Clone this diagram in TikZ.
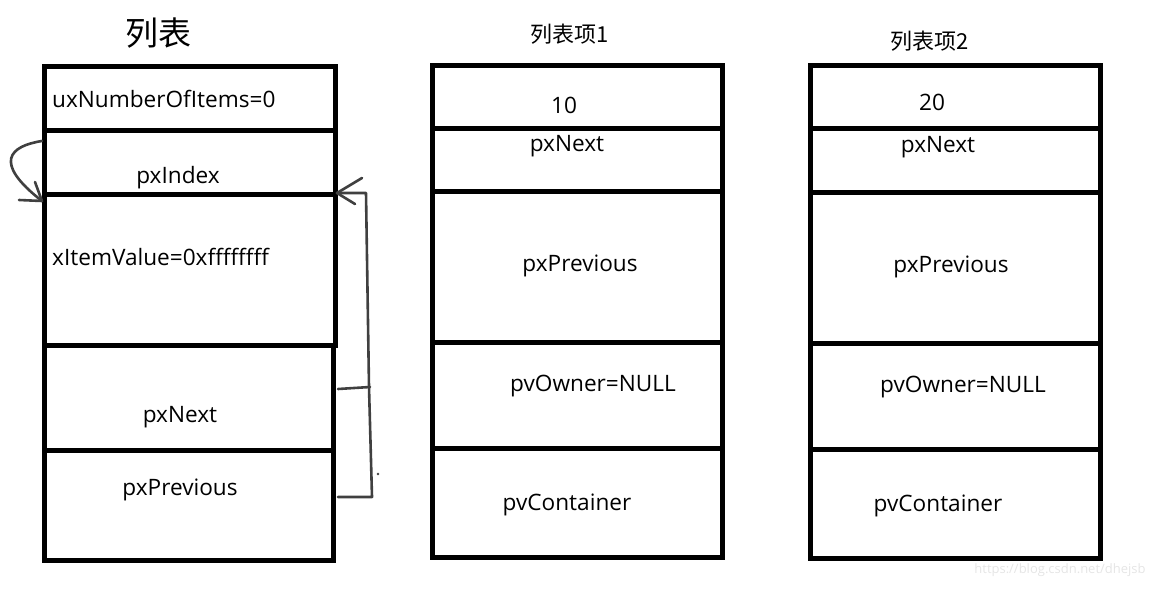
\documentclass[tikz,border=0pt]{standalone}
\usepackage{fontspec}
\setmainfont{Open Sans}
\newfontfamily\cjkf{Noto Sans CJK SC}
\begin{document}
\begin{tikzpicture}[x=1pt,y=-1pt,
  cell/.style={draw=black,line width=5pt,inner sep=0pt,outer sep=0pt,anchor=north west},
  lbl/.style={inner sep=0pt,yshift=-1pt,font=\fontsize{22.6}{26}\selectfont},
  lbll/.style={lbl,anchor=west},
  ttl/.style={inner sep=0pt,font=\cjkf\fontsize{22}{26}\selectfont},
  hand/.style={draw=black!75,line width=2.6pt,line cap=round,line join=round}]
\useasboundingbox (0,0) rectangle (1164,589);
% list
\node[cell,minimum width=291pt,minimum height=64pt]  (l1) at (44,66) {};
\node[cell,minimum width=291pt,minimum height=64pt]  (l2) at (44,130) {};
\node[cell,minimum width=291pt,minimum height=151pt] (l3) at (44,194) {};
\node[cell,minimum width=289pt,minimum height=105pt] (l4) at (44,345) {};
\node[cell,minimum width=289pt,minimum height=110pt] (l5) at (44,450) {};
% item 1
\node[cell,minimum width=290pt,minimum height=63pt]  (a1) at (432,65) {};
\node[cell,minimum width=290pt,minimum height=63pt]  (a2) at (432,128) {};
\node[cell,minimum width=290pt,minimum height=151pt] (a3) at (432,191) {};
\node[cell,minimum width=290pt,minimum height=106pt] (a4) at (432,342) {};
\node[cell,minimum width=290pt,minimum height=109pt] (a5) at (432,448) {};
% item 2
\node[cell,minimum width=290pt,minimum height=63pt]  (b1) at (810,65) {};
\node[cell,minimum width=290pt,minimum height=64pt]  (b2) at (810,128) {};
\node[cell,minimum width=290pt,minimum height=151pt] (b3) at (810,192) {};
\node[cell,minimum width=290pt,minimum height=106pt] (b4) at (810,343) {};
\node[cell,minimum width=290pt,minimum height=109pt] (b5) at (810,449) {};
% titles
\node[inner sep=0pt,font=\cjkf\fontsize{33}{37}\selectfont] (t0) at (158,33) {列表};
\node[ttl] (t1) at (570,34) {列表项1};
\node[ttl] (t2) at (930,41) {列表项2};
% list texts
\node[lbll] (x1) at (52,98) {uxNumberOfItems=0};
\node[lbl] (x2) at (178,177) {pxIndex};
\node[lbll] (x3) at (52,256) {xItemValue=0xffffffff};
\node[lbl] (x4) at (180,416) {pxNext};
\node[lbl] (x5) at (180,489) {pxPrevious};
% item1 texts
\node[lbl] (y1) at (564,104) {10};
\node[lbl] (y2) at (567,145) {pxNext};
\node[lbl] (y3) at (580,265) {pxPrevious};
\node[lbl] (y4) at (593,385) {pvOwner=NULL};
\node[lbl] (y5) at (567,504) {pvContainer};
% item2 texts
\node[lbl] (z1) at (932,101) {20};
\node[lbl] (z2) at (938,146) {pxNext};
\node[lbl] (z3) at (951,266) {pxPrevious};
\node[lbl] (z4) at (963,386) {pvOwner=NULL};
\node[lbl] (z5) at (938,505) {pvContainer};
% left self arrow
\coordinate (ls) at (42,141);
\coordinate (le) at (42,201);
\draw[hand] (ls) .. controls (10,146) and (-8,162) .. (le);
\draw[hand] (35,182) -- (le) -- (19,200);
% right bracket arrow
\coordinate (re) at (337,193);
\coordinate (rn) at (338,389);
\coordinate (rp) at (338,497);
\draw[hand] (rp) -- (372,497) -- (369,387) -- (366,193) -- (re);
\draw[hand] (rn) -- (370,387);
\draw[hand] (362,178) -- (re) -- (355,204);
\fill[black!75] (378,474) circle (1.3pt);
% watermark
\node[inner sep=0pt,text=black!10,font=\fontsize{13}{15}\selectfont] (wm) at (1060,570) {https://blog.csdn.net/dhejsb};
\end{tikzpicture}
\end{document}
